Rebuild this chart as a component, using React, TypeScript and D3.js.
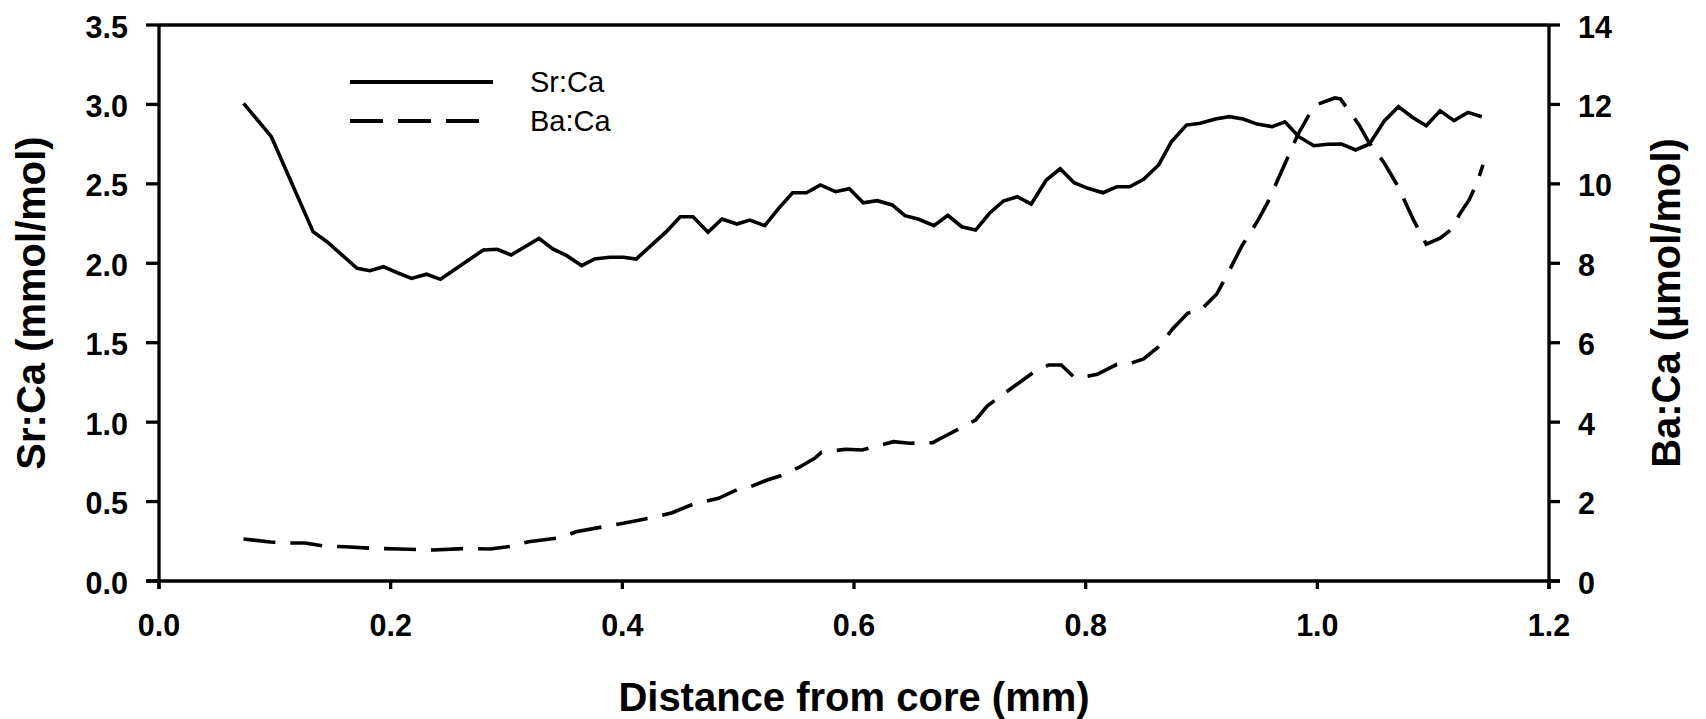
import React from "react";
import * as d3 from "d3";

// Sr:Ca (mmol/mol) vs distance (mm)
const srDist = [0.073,0.097,0.133,0.145,0.171,0.182,0.194,0.207,0.218,0.231,0.243,0.280,0.292,0.304,0.328,0.340,0.352,0.365,0.376,0.389,0.401,0.412,0.438,0.450,0.461,0.474,0.486,0.499,0.510,0.523,0.535,0.547,0.559,0.571,0.584,0.596,0.608,0.620,0.633,0.644,0.656,0.669,0.681,0.693,0.705,0.717,0.729,0.741,0.753,0.766,0.778,0.790,0.802,0.815,0.827,0.838,0.850,0.863,0.874,0.887,0.899,0.912,0.924,0.936,0.948,0.961,0.972,0.984,0.997,1.009,1.021,1.033,1.045,1.058,1.070,1.082,1.094,1.106,1.118,1.130,1.142];
const srVal = [3.007,2.797,2.199,2.136,1.968,1.953,1.978,1.937,1.905,1.931,1.899,2.084,2.088,2.052,2.157,2.090,2.048,1.985,2.027,2.038,2.038,2.027,2.199,2.293,2.293,2.195,2.279,2.247,2.272,2.237,2.346,2.444,2.444,2.493,2.451,2.469,2.381,2.394,2.367,2.300,2.277,2.237,2.302,2.230,2.209,2.315,2.392,2.419,2.373,2.524,2.595,2.507,2.472,2.444,2.482,2.482,2.529,2.619,2.765,2.870,2.881,2.908,2.923,2.908,2.876,2.860,2.891,2.797,2.740,2.749,2.751,2.713,2.751,2.898,2.986,2.919,2.866,2.960,2.898,2.950,2.923];

// Ba:Ca (µmol/mol) vs distance (mm)
const baDist = [0.073,0.096,0.113,0.126,0.142,0.161,0.184,0.208,0.237,0.265,0.286,0.303,0.319,0.347,0.360,0.389,0.401,0.429,0.443,0.463,0.471,0.483,0.500,0.511,0.525,0.536,0.552,0.566,0.572,0.593,0.607,0.634,0.648,0.668,0.675,0.689,0.705,0.715,0.727,0.755,0.768,0.779,0.790,0.795,0.810,0.827,0.837,0.850,0.863,0.875,0.888,0.900,0.913,0.921,0.935,0.944,0.949,0.959,0.965,0.977,0.983,0.996,1.001,1.015,1.020,1.036,1.045,1.057,1.063,1.070,1.083,1.090,1.094,1.106,1.115,1.123,1.131,1.138,1.143];
const baVal = [1.058,0.982,0.957,0.957,0.881,0.864,0.823,0.806,0.781,0.818,0.806,0.869,0.990,1.090,1.241,1.393,1.453,1.619,1.720,1.957,1.997,2.083,2.309,2.380,2.543,2.644,2.853,3.090,3.241,3.317,3.299,3.508,3.468,3.483,3.594,3.803,4.054,4.407,4.666,5.256,5.439,5.439,5.130,5.120,5.205,5.457,5.465,5.590,5.900,6.346,6.741,6.842,7.220,7.648,8.444,8.857,9.091,9.637,10.048,10.829,11.231,11.904,12.012,12.163,12.138,11.483,11.022,10.559,10.267,9.914,9.091,8.713,8.479,8.630,8.839,9.242,9.595,10.030,10.480];

const xTicks = [0, 0.2, 0.4, 0.6, 0.8, 1.0, 1.2];
const yLeftTicks = [0, 0.5, 1.0, 1.5, 2.0, 2.5, 3.0, 3.5];
const yRightTicks = [0, 2, 4, 6, 8, 10, 12, 14];

const legendLabels = ["Sr:Ca", "Ba:Ca"];

const W = 1706;
const H = 719;
const L = 159, R = 1549, T = 25, B = 581;
const FONT = "'Liberation Sans', Arial, Helvetica, sans-serif";

export default function App() {
  const x = d3.scaleLinear().domain([0, 1.2]).range([L, R]);
  const yL = d3.scaleLinear().domain([0, 3.5]).range([B, T]);
  const yR = d3.scaleLinear().domain([0, 14]).range([B, T]);

  const srData = srDist.map((d, i) => [d, srVal[i]] as [number, number]);
  const baData = baDist.map((d, i) => [d, baVal[i]] as [number, number]);

  const srLine = d3.line<[number, number]>().x(d => x(d[0])).y(d => yL(d[1]))(srData) || "";
  const baLine = d3.line<[number, number]>().x(d => x(d[0])).y(d => yR(d[1]))(baData) || "";

  const axisW = 3.3;
  const lineW = 3.6;
  const dash = "32 15";
  const tickFs = 30.5;

  return (
    <svg width={W} height={H} style={{ position: "absolute", left: 0, top: 0, background: "#fff" }}>
      <rect x={0} y={0} width={W} height={H} fill="#fff" />
      {/* frame */}
      <line x1={L} x2={R} y1={T} y2={T} stroke="#000" strokeWidth={axisW} />
      <line x1={L - 13} x2={R + 11} y1={B} y2={B} stroke="#000" strokeWidth={axisW} />
      <line x1={L} x2={L} y1={T} y2={B + 8} stroke="#000" strokeWidth={axisW} />
      <line x1={R} x2={R} y1={T} y2={B + 8} stroke="#000" strokeWidth={axisW} />

      {/* x ticks */}
      {xTicks.map(t => (
        <g key={"x" + t}>
          <line x1={x(t)} x2={x(t)} y1={B} y2={B + 8} stroke="#000" strokeWidth={axisW} />
          <text x={x(t)} y={636} textAnchor="middle" fontFamily={FONT} fontWeight="bold" fontSize={tickFs}>
            {t.toFixed(1)}
          </text>
        </g>
      ))}
      {/* left ticks */}
      {yLeftTicks.map(t => (
        <g key={"yl" + t}>
          <line x1={L - 13} x2={L} y1={yL(t)} y2={yL(t)} stroke="#000" strokeWidth={axisW} />
          <text x={128} y={yL(t) + 12.5} textAnchor="end" fontFamily={FONT} fontWeight="bold" fontSize={tickFs}>
            {t.toFixed(1)}
          </text>
        </g>
      ))}
      {/* right ticks */}
      {yRightTicks.map(t => (
        <g key={"yr" + t}>
          <line x1={R} x2={R + 11} y1={yR(t)} y2={yR(t)} stroke="#000" strokeWidth={axisW} />
          <text x={1578} y={yR(t) + 12.5} textAnchor="start" fontFamily={FONT} fontWeight="bold" fontSize={tickFs}>
            {String(t)}
          </text>
        </g>
      ))}

      {/* axis titles */}
      <text x={(L + R) / 2} y={711} textAnchor="middle" fontFamily={FONT} fontWeight="bold" fontSize={40}>
        Distance from core (mm)
      </text>
      <text transform={`translate(45,${(T + B) / 2}) rotate(-90)`} textAnchor="middle" fontFamily={FONT} fontWeight="bold" fontSize={40}>
        Sr:Ca (mmol/mol)
      </text>
      <text transform={`translate(1680,${(T + B) / 2}) rotate(-90)`} textAnchor="middle" fontFamily={FONT} fontWeight="bold" fontSize={40}>
        Ba:Ca (µmol/mol)
      </text>

      {/* data */}
      <path d={srLine} fill="none" stroke="#000" strokeWidth={lineW} strokeLinejoin="miter" />
      <path d={baLine} fill="none" stroke="#000" strokeWidth={lineW} strokeDasharray={dash} />

      {/* legend */}
      <line x1={350} x2={493} y1={82} y2={82} stroke="#000" strokeWidth={4} />
      <line x1={350} x2={480} y1={121} y2={121} stroke="#000" strokeWidth={4} strokeDasharray="33 15" />
      <text x={530} y={92} fontFamily={FONT} fontSize={29}>{legendLabels[0]}</text>
      <text x={530} y={131} fontFamily={FONT} fontSize={29}>{legendLabels[1]}</text>
    </svg>
  );
}
